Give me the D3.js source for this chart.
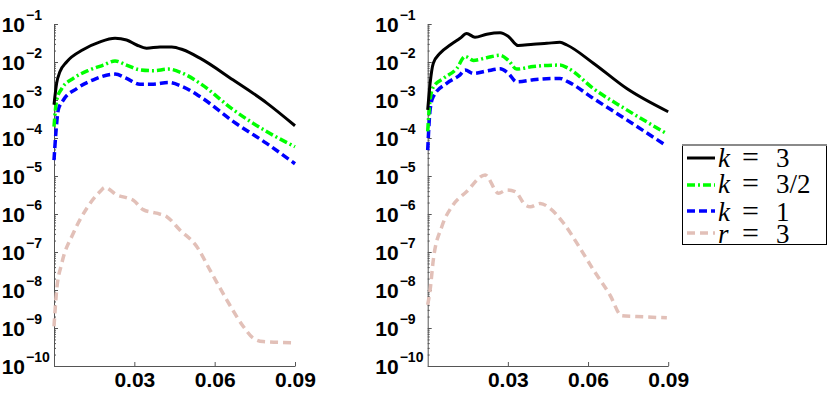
<!DOCTYPE html>
<meta charset="utf-8">
<script src="https://d3js.org/d3.v7.min.js"></script>
<style>
  body { margin: 0; background: #fff; }
  .axis path, .axis line { stroke: #555; stroke-width: 1; }
  .axis text, .ylab { font-family: "Liberation Sans", Arial, sans-serif; font-weight: bold; fill: #000; }
  .leg { font-family: "Liberation Serif", "DejaVu Serif", serif; font-size: 27px; fill: #000; }
</style>
<div id="my_dataviz"></div>
<script>

// ---- data: [x, value] ----
// left panel
var leftK3 = [[0,7.5e-4],[0.001,2.8e-3],[0.0022,5.5e-3],[0.0047,1.0e-2],[0.0108,2.1e-2],[0.0172,3.4e-2],
  [0.0228,4.2e-2],[0.0271,3.8e-2],[0.0309,2.8e-2],[0.0346,2.3e-2],[0.0396,2.5e-2],[0.044,2.5e-2],
  [0.0482,2.1e-2],[0.0545,1.26e-2],[0.0668,3.4e-3],[0.0795,8.3e-4],[0.09,2.1e-4]];
var leftK32 = [[0,2.0e-4],[0.001,1.0e-3],[0.0029,2.0e-3],[0.0072,3.7e-3],[0.0134,6.2e-3],[0.0184,8.3e-3],
  [0.0228,1.07e-2],[0.0271,8.3e-3],[0.0321,6.2e-3],[0.0371,5.9e-3],[0.0427,6.5e-3],[0.0477,5.2e-3],
  [0.0545,2.75e-3],[0.067,5.5e-4],[0.0794,1.48e-4],[0.09,5.9e-5]];
var leftK1 = [[0,2.6e-5],[0.0007,1.35e-4],[0.0016,5.5e-4],[0.0035,1.0e-3],[0.0085,2.0e-3],[0.0147,3.4e-3],
  [0.0228,4.8e-3],[0.0271,3.7e-3],[0.0321,2.6e-3],[0.0371,2.6e-3],[0.0427,2.9e-3],[0.0477,2.3e-3],
  [0.0545,1.23e-3],[0.067,2.7e-4],[0.0794,7.2e-5],[0.09,2.1e-5]];
var leftR3 = [[0,1.1e-9],[0.001,1.0e-8],[0.0029,5.0e-8],[0.0072,3.1e-7],[0.0122,1.4e-6],[0.0172,3.9e-6],
  [0.019,5.0e-6],[0.0234,3.2e-6],[0.0277,2.6e-6],[0.0296,2.3e-6],[0.0333,1.3e-6],[0.0383,1.05e-6],
  [0.0421,8.5e-7],[0.047,3.8e-7],[0.0533,1.4e-7],[0.0582,3.4e-8],[0.0645,5.5e-9],[0.0707,1.1e-9],
  [0.0744,5.4e-10],[0.0781,4.4e-10],[0.09,4.1e-10]];

// right panel
var rightK3 = [[0,5.5e-4],[0.0009,2.75e-3],[0.0021,9.3e-3],[0.0046,1.7e-2],[0.0084,2.8e-2],[0.0121,4.2e-2],
  [0.0146,5.6e-2],[0.0177,4.5e-2],[0.0221,5.4e-2],[0.0271,5.9e-2],[0.0302,4.7e-2],[0.0339,2.7e-2],
  [0.0395,2.95e-2],[0.0446,3.1e-2],[0.0495,3.3e-2],[0.0521,2.8e-2],[0.062,9.3e-3],[0.0745,2.0e-3],[0.09,4.9e-4]];
var rightK32 = [[0,1.5e-4],[0.0009,1.0e-3],[0.0021,2.2e-3],[0.0059,3.7e-3],[0.0109,6.8e-3],[0.014,1.4e-2],
  [0.0171,1.1e-2],[0.0221,1.3e-2],[0.0271,1.5e-2],[0.0302,1.1e-2],[0.0333,6.5e-3],[0.0395,7.6e-3],
  [0.0495,8.3e-3],[0.0526,6.8e-3],[0.062,2.0e-3],[0.0745,5.5e-4],[0.0895,1.3e-4]];
var rightK1 = [[0,4.8e-5],[0.0009,5.5e-4],[0.0021,1.23e-3],[0.0071,2.75e-3],[0.0121,4.6e-3],[0.014,6.2e-3],
  [0.0171,5.0e-3],[0.0221,5.8e-3],[0.0271,6.6e-3],[0.0302,5.0e-3],[0.0333,3.0e-3],[0.0395,3.4e-3],
  [0.0495,3.7e-3],[0.0526,3.0e-3],[0.062,1.1e-3],[0.0745,3.0e-4],[0.0888,6.6e-5]];
var rightR3 = [[0,4.1e-9],[0.0009,1.0e-8],[0.0021,6.2e-8],[0.0053,4.7e-7],[0.009,1.55e-6],[0.0146,3.9e-6],
  [0.0215,1.07e-5],[0.0265,3.5e-6],[0.0296,4.3e-6],[0.0327,3.9e-6],[0.0365,1.74e-6],[0.0384,1.55e-6],
  [0.0421,1.9e-6],[0.0458,1.4e-6],[0.0508,5.8e-7],[0.057,1.26e-7],[0.062,3.4e-8],[0.0682,7.4e-9],
  [0.0726,2.1e-9],[0.0782,2.0e-9],[0.0895,1.86e-9]];

var xTicks = [0.03, 0.06, 0.09];
var yDecades = [-10, -9, -8, -7, -6, -5, -4, -3, -2, -1];
var legendVar = ["k", "k", "k", "r"];
var legendVal = ["3", "3/2", "1", "3"];

// ---- styles ----
var colors = ["#000000", "#00ff00", "#0000ff", "#e2c0b8"];
var dashes = [null, "8,3,2,3", "8,4", "8,5"];
var widths = [3, 3.5, 3.5, 3.5];

var svg = d3.select("#my_dataviz")
  .append("svg")
    .attr("width", 830)
    .attr("height", 397)
    .style("background", "#fff");

var y = d3.scaleLog().domain([1e-10, 1e-1]).range([366, 24]);

var panels = [
  {x0: 54, x1: 295, series: [leftK3, leftK32, leftK1, leftR3]},
  {x0: 427.7, x1: 668.2, series: [rightK3, rightK32, rightK1, rightR3]}
];

// minor tick values for the log axis
var minor = [];
yDecades.slice(0, -1).forEach(function(e) {
  for (var m = 2; m <= 9; m++) minor.push(m * Math.pow(10, e));
});

panels.forEach(function(p) {
  var x = d3.scaleLinear().domain([0, 0.09]).range([p.x0, p.x1]);

  // minor y ticks
  svg.append("g")
    .attr("class", "axis")
    .attr("transform", "translate(" + p.x0 + ",0)")
    .call(d3.axisLeft(y).tickValues(minor).tickSizeInner(-2).tickSizeOuter(0).tickFormat(""))
    .select(".domain").remove();

  // major y ticks
  svg.append("g")
    .attr("class", "axis")
    .attr("transform", "translate(" + p.x0 + ",0)")
    .call(d3.axisLeft(y).tickValues(yDecades.map(function(e) { return Math.pow(10, e); }))
      .tickSizeInner(-4).tickSizeOuter(0).tickFormat(""));

  // y labels 10^e
  var lab = svg.append("g").selectAll("g")
    .data(yDecades).enter().append("g");
  lab.append("text")
    .attr("class", "ylab")
    .attr("x", p.x0 - 29)
    .attr("y", function(e) { return y(Math.pow(10, e)) + 8; })
    .attr("text-anchor", "end")
    .style("font-size", "21px")
    .text("10");
  lab.append("text")
    .attr("class", "ylab")
    .attr("x", p.x0 - 28)
    .attr("y", function(e) { return y(Math.pow(10, e)) - 4; })
    .style("font-size", "14px")
    .text(function(e) { return "\u2212" + (-e); });

  // x axis
  svg.append("g")
    .attr("class", "axis")
    .attr("transform", "translate(0,366)")
    .call(d3.axisBottom(x).tickValues(xTicks).tickSizeInner(-4).tickSizeOuter(0)
      .tickPadding(6).tickFormat(d3.format(".2f")))
    .selectAll("text").style("font-size", "21px");

  // lines
  var line = d3.line()
    .x(function(d) { return x(d[0]); })
    .y(function(d) { return y(d[1]); })
    .curve(d3.curveMonotoneX);

  svg.selectAll(null)
    .data(p.series.slice().reverse())
    .enter()
    .append("path")
      .attr("d", line)
      .style("fill", "none")
      .style("stroke", function(d, i) { return colors[3 - i]; })
      .style("stroke-width", function(d, i) { return widths[3 - i]; })
      .style("stroke-dasharray", function(d, i) { return dashes[3 - i]; });
});

// legend
var leg = svg.append("g");
leg.append("rect")
  .attr("x", 682.5).attr("y", 144.5).attr("width", 144).attr("height", 100)
  .style("fill", "#fff").style("stroke", "#000").style("stroke-width", 1);
leg.append("line")
  .attr("x1", 682).attr("x2", 827).attr("y1", 145).attr("y2", 145)
  .style("stroke", "#8a8a8a").style("stroke-width", 2);

var rowLine = [158, 185, 211, 233];
var rowText = [167, 193, 221, 243];

legendVar.forEach(function(v, i) {
  leg.append("line")
    .attr("x1", 687).attr("x2", 715)
    .attr("y1", rowLine[i]).attr("y2", rowLine[i])
    .style("stroke", colors[i])
    .style("stroke-width", widths[i])
    .style("stroke-dasharray", dashes[i]);
  var t = leg.append("text").attr("class", "leg").attr("y", rowText[i]);
  t.append("tspan").attr("x", 718).style("font-style", "italic").text(v);
  t.append("tspan").attr("x", 742).style("font-size", "30px").text("=");
  t.append("tspan").attr("x", 776).text(legendVal[i]);
});

</script>
